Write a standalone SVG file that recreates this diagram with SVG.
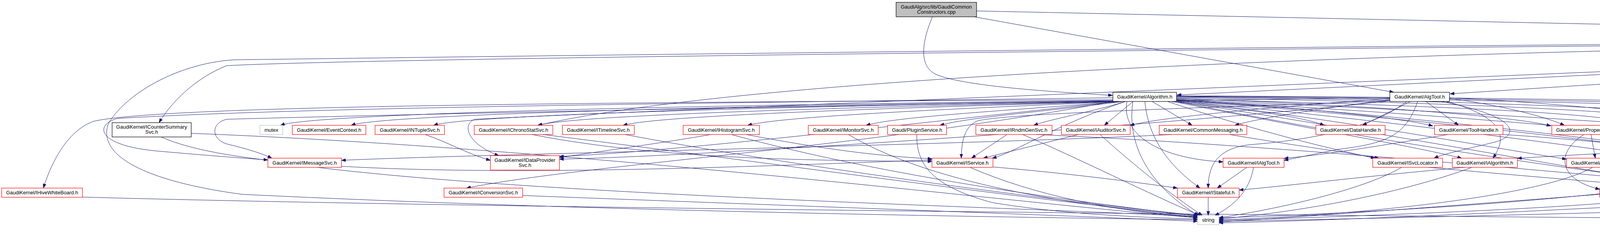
<svg xmlns="http://www.w3.org/2000/svg" width="6877" height="624" viewBox="0 0 6877 624">
<defs>
<marker id="ah" markerWidth="11" markerHeight="8" refX="11" refY="4" orient="auto" markerUnits="userSpaceOnUse"><path d="M0,0 L11,4 L0,8 z" fill="#191970" stroke="#191970" stroke-width="0.8"/></marker>
</defs>
<style>
.e path{fill:none;stroke:#191970;stroke-width:1;marker-end:url(#ah)}
.n rect{fill:#ffffff;stroke-width:1.2}
.r rect{stroke:#ff0000}
.b rect{stroke:#000000}
.g rect{stroke:#bfbfbf}
.s rect{fill:#bfbfbf;stroke:#000000}
.n text{font-family:"Liberation Sans",Arial,Helvetica,sans-serif;font-size:13px;fill:#000000;text-anchor:middle}
</style>
<rect x="0" y="0" width="6877" height="624" fill="#ffffff"/>
<g id="edges" class="e">
<path d="M2500,28 L5806,98"/>
<path d="M2387,43 C2365,95 2345,170 2400,192 C2480,222 2700,235 2848,244"/>
<path d="M2494,43 L3568,236"/>
<path d="M5807,108 L3013,243"/>
<path d="M5807,106 L3712,240"/>
<path d="M5807,100 L4708,163"/>
<path d="M5984,108 C6100,125 6200,145 6245,159.5"/>
<path d="M5984,105 C6200,120 6350,145 6419,163"/>
<path d="M5984,102 C6300,112 6550,140 6621,162"/>
<path d="M6622,165 C6500,135 6200,115 5986,107"/>
<path d="M5985,93 C6300,105 6700,140 6822,157 C6870,190 6855,280 6800,330 C6770,360 6745,385 6730,404.5"/>
<path d="M5940,113 C6030,140 6100,175 6157,229.3"/>
<path d="M5960,113 C6150,160 6280,200 6342,236"/>
<path d="M5807,103 C3000,125 900,150 580,168 C500,200 440,260 407,313.7"/>
<path d="M5807,101 C3500,115 1200,145 600,153 C470,160 330,230 278,315 C245,400 380,465 620,497 C1500,540 2600,556 3066,562"/>
<path d="M5807,104 C3500,120 1900,200 1377,320.5"/>
<path d="M5807,110 C4000,190 1600,285 1215,305 C1180,320 1200,370 1277,398"/>
<path d="M5859,113 C5700,170 5420,280 5344,320.5"/>
<path d="M5889,113 C5850,240 5750,350 5600,370 C5400,390 5250,400 5138.5,410"/>
<path d="M5900,113 C5920,240 5880,350 5720,400 C5600,410 5500,414 5412.2,416"/>
<path d="M5922,113 C6060,330 6000,436 5700,462 C5300,470 5000,478 4854,485"/>
<path d="M5918,113 C6030,320 5970,436 5700,455 C5400,465 5200,480 5055.3,488"/>
<path d="M5940,113 C6100,150 6250,190 6392,189 C6470,215 6500,260 6497,300 C6495,380 6500,440 6455,462 C6300,500 5700,540 5306.4,558"/>
<path d="M5905,113 C5950,280 5300,390 4617.3,411"/>
<path d="M2849,255 C1500,262 420,270 240,310 C170,335 130,420 111,481"/>
<path d="M2850,257 C1800,268 800,290 718,320.5"/>
<path d="M2851,258 C1900,270 980,292 899,320.5"/>
<path d="M2853,259 C2000,272 1190,294 1110,320.5"/>
<path d="M2855,260 C2100,275 1460,296 1377,320.5"/>
<path d="M2858,260 C2200,278 1680,297 1595,320.5"/>
<path d="M2862,260 C2400,280 2000,298 1914,320.5"/>
<path d="M2866,260 C2550,285 2300,298 2217,320.5"/>
<path d="M2872,260 C2650,288 2480,300 2406,320.5"/>
<path d="M2880,260 C2780,290 2700,302 2646,320.5"/>
<path d="M2900,260 L2827,320.5"/>
<path d="M2950,260 L3052,320.5"/>
<path d="M3000,260 C3200,280 3340,300 3390,320.5"/>
<path d="M3012,255 C3300,272 3580,300 3668,322"/>
<path d="M3012,252 C3500,268 3880,298 3970,322"/>
<path d="M3012,250 C3800,262 4300,290 4378,320.5"/>
<path d="M3012,248 C4000,258 4600,300 4789,326"/>
<path d="M3012,247 C4200,256 4950,290 5032,320.5"/>
<path d="M3012,246 C4400,254 5170,290 5252,320.5"/>
<path d="M3012,245 C4600,252 5440,290 5528,320.5"/>
<path d="M2849,250 C2000,262 800,272 300,303 C240,320 250,372 400,386 C500,395 600,403 685.8,409"/>
<path d="M2860,260 C2300,320 1700,390 1432.2,400"/>
<path d="M2880,260 C2700,320 2600,390 2540,404.5"/>
<path d="M2885,260 C2870,340 2960,405 3131,414"/>
<path d="M2990,260 C3200,330 3400,380 3520,404.5"/>
<path d="M3005,260 C3300,320 3600,370 3742,404.5"/>
<path d="M3012,258 C3400,300 3800,375 4010,407"/>
<path d="M3012,257 C3600,290 4200,370 4464,404.5"/>
<path d="M2852,259 C2200,380 1500,420 1194,481"/>
<path d="M2931,260 C2940,360 3000,430 3072,481"/>
<path d="M3012,253 C3600,268 4150,288 4185,320 C4215,360 4200,420 4184,481"/>
<path d="M2900,260 C2880,400 2980,500 3068,551"/>
<path d="M3012,259 C3800,420 4800,540 5247.6,557"/>
<path d="M3012,258 C3800,330 4500,440 4745,481"/>
<path d="M3012,257 C3900,320 4700,440 4928,481"/>
<path d="M3012,256 C3900,300 4700,390 4938,410"/>
<path d="M3012,259 C3800,380 4200,470 4419,481"/>
<path d="M3012,255 C4200,300 5100,390 5365.6,409"/>
<path d="M3610,260 L3488,320.5"/>
<path d="M3651,260 L3734,320.5"/>
<path d="M3711,252 C3850,270 3960,300 4005,320.5"/>
<path d="M3711,250 C4000,264 4300,294 4382,320.5"/>
<path d="M3558,255 C3400,275 3230,300 3161,320.5"/>
<path d="M3558,252 C3300,270 2960,300 2893,321"/>
<path d="M3629,260 C3600,340 3560,365 3440,380 C3380,390 3330,402 3287.2,410"/>
<path d="M3692,260 C3900,300 3890,350 3820,365 C3760,380 3700,392 3671,404.5"/>
<path d="M3705,260 C3850,300 3860,350 3822,404.5"/>
<path d="M3558,250 C2500,262 1200,288 580,305 C540,315 540,355 580,368 C630,380 670,392 696,404.5"/>
<path d="M3558,258 C3000,320 1800,400 1432.2,407"/>
<path d="M3558,258 C3100,275 2560,290 2500,310 C2470,325 2461,360 2461,404.5"/>
<path d="M3600,260 C3500,340 3300,362 3200,370 C3110,380 3093,430 3093,481"/>
<path d="M412,350 C700,480 1800,430 2385.8,409"/>
<path d="M489,341 C1500,380 2600,520 3065.7,557"/>
<path d="M812,428 C1400,500 2600,530 3065.7,554"/>
<path d="M1088,344 C1150,365 1200,395 1255.4,410"/>
<path d="M1362,344 C1700,410 2100,410 2385.8,413"/>
<path d="M1390,344 C2000,420 2700,520 3066,552"/>
<path d="M1600,344 C2000,420 2700,515 3068,551"/>
<path d="M1820,344 C1700,365 1550,385 1432.2,403"/>
<path d="M1872,344 C2300,460 2800,520 3065.7,553"/>
<path d="M1910,344 C2100,380 2250,400 2385.8,406"/>
<path d="M2172,344 C2400,480 2800,530 3065.7,555"/>
<path d="M2347,344 C2345,430 2400,480 2540,518 C2700,545 2900,556 3065.7,560"/>
<path d="M2578,344 L2487,404.5"/>
<path d="M2618,344 C2750,400 2950,500 3072,551"/>
<path d="M2652,344 C3500,380 4800,520 5247.6,555"/>
<path d="M2761,344 L2517,404.5"/>
<path d="M2816,344 C2900,420 3000,500 3078,551"/>
<path d="M3000,344 C2500,370 1200,395 874.1,410"/>
<path d="M3148,344 C3300,370 3450,390 3530,404.5"/>
<path d="M3707,344 C3550,370 3400,395 3287.2,405"/>
<path d="M3848,344 C4100,360 4350,390 4457.2,405"/>
<path d="M4073,344 L4084,404.5"/>
<path d="M4055,344 C3980,390 3990,460 4095.4,484"/>
<path d="M4168,342 C4500,355 4800,390 4938,408"/>
<path d="M4406,344 L4145,404.5"/>
<path d="M4491,344 C4400,390 4280,440 4203,481"/>
<path d="M4887,350 C4910,400 4930,440 4952,481"/>
<path d="M4850,350 C4500,500 3500,545 3120.4,557"/>
<path d="M4971,350 C5150,370 5280,395 5365.6,409"/>
<path d="M5085,344 L5050,404.5"/>
<path d="M5313,344 C5310,420 5295,490 5282,551"/>
<path d="M5258,344 C4800,360 4100,390 3884.6,405"/>
<path d="M5592,344 C5560,420 5500,490 5306.4,556"/>
<path d="M2483,428 C2650,500 2850,540 3065.7,556"/>
<path d="M2543,427 C2750,445 2900,465 3014.2,481"/>
<path d="M3192,428 L3116,481"/>
<path d="M3209,428 C3200,480 3170,520 3110,551"/>
<path d="M3588,428 C3500,480 3300,530 3120.4,557"/>
<path d="M3657,428 C3900,450 4200,475 4400.6,490"/>
<path d="M3750,428 C3500,450 3300,475 3172.2,486"/>
<path d="M3768,428 C3600,490 3350,540 3120.4,560"/>
<path d="M4077,428 C3950,500 3500,550 3120.4,562"/>
<path d="M4101,428 L4156,481"/>
<path d="M4519,428 L4443,481"/>
<path d="M4530,428 C4500,500 4200,530 3120.4,564"/>
<path d="M4571,428 L4734,481"/>
<path d="M4999,428 L4819,481"/>
<path d="M5028,428 L4984,481"/>
<path d="M5048,428 C5090,480 5070,510 4900,520 C4300,540 3500,560 3120.4,566"/>
<path d="M3093,504.5 L3093,551"/>
<path d="M4256,499 C4600,525 5000,550 5247.6,559"/>
<path d="M4095,497 C3800,520 3400,550 3120.4,568"/>
<path d="M4854,504 C5000,530 5150,550 5247.6,562"/>
<path d="M4700,500 C4300,520 3600,560 3120.4,570"/>
<path d="M211,504 C1500,540 4500,560 5247.6,565"/>
<path d="M1338,500 C2000,525 2700,550 3065.7,566"/>
<path d="M6370,260 C6200,400 5700,520 5306.4,560"/>
<path d="M6177,266 C6150,380 6050,460 5800,520 C5600,540 5450,555 5306.4,563"/>
<path d="M6716,183 L6716,404.5"/>
<path d="M4603,183 C4615,260 4610,340 4560,366 C4450,395 4300,410 4168.3,414"/>
</g>
<g id="n_src" class="n s"><rect x="2294" y="6" width="206" height="37"/><text x="2397" y="21.8">GaudiAlg/src/lib/GaudiCommon</text><text x="2397" y="34.8">Constructors.cpp</text></g>
<g id="n_GaudiCommon" class="n b"><rect x="5807" y="89.5" width="177.5" height="23.5"/><text x="5895.75" y="105.8">GaudiAlg/GaudiCommon.h</text></g>
<g id="n_DataObjectHandle" class="n r"><rect x="4492" y="159.5" width="215" height="23.5"/><text x="4599.5" y="175.8">GaudiKernel/DataObjectHandle.h</text></g>
<g id="n_HashMap" class="n r"><rect x="6237.5" y="159.5" width="158.5" height="23.5"/><text x="6316.75" y="175.8">GaudiKernel/HashMap.h</text></g>
<g id="n_SmartDataPtr" class="n r"><rect x="6418.7" y="159.5" width="180.1" height="23.5"/><text x="6508.75" y="175.8">GaudiKernel/SmartDataPtr.h</text></g>
<g id="n_GaudiCommonImp" class="n r"><rect x="6620.8" y="159.5" width="190.8" height="23.5"/><text x="6716.2" y="175.8">GaudiAlg/GaudiCommonImp.h</text></g>
<g id="n_Algorithm" class="n b"><rect x="2849" y="236" width="163" height="23.5"/><text x="2930.5" y="252.3">GaudiKernel/Algorithm.h</text></g>
<g id="n_AlgTool" class="n b"><rect x="3558" y="236" width="152.7" height="23.5"/><text x="3634.35" y="252.3">GaudiKernel/AlgTool.h</text></g>
<g id="n_IUpdateManagerSvc" class="n r"><rect x="6086" y="229.3" width="193" height="37"/><text x="6182.5" y="244.9">GaudiKernel/IUpdateManager</text><text x="6182.5" y="257.9">Svc.h</text></g>
<g id="n_StatEntity" class="n r"><rect x="6302" y="236" width="159" height="23.5"/><text x="6381.5" y="252.3">GaudiKernel/StatEntity.h</text></g>
<g id="n_ICounterSummarySvc" class="n b"><rect x="287" y="313.7" width="202.5" height="36.6"/><text x="388.25" y="329.3">GaudiKernel/ICounterSummary</text><text x="388.25" y="342.3">Svc.h</text></g>
<g id="n_mutex" class="n g"><rect x="665.4" y="320.5" width="58.5" height="23.5"/><text x="694.65" y="336.8">mutex</text></g>
<g id="n_EventContext" class="n r"><rect x="748.3" y="320.5" width="188.3" height="23.5"/><text x="842.45" y="336.8">GaudiKernel/EventContext.h</text></g>
<g id="n_INTupleSvc" class="n r"><rect x="960.2" y="320.5" width="177.6" height="23.5"/><text x="1049" y="336.8">GaudiKernel/INTupleSvc.h</text></g>
<g id="n_IChronoStatSvc" class="n r"><rect x="1214" y="320.5" width="201.2" height="23.5"/><text x="1314.6" y="336.8">GaudiKernel/IChronoStatSvc.h</text></g>
<g id="n_ITimelineSvc" class="n r"><rect x="1439.6" y="320.5" width="184.2" height="23.5"/><text x="1531.7" y="336.8">GaudiKernel/ITimelineSvc.h</text></g>
<g id="n_IHistogramSvc" class="n r"><rect x="1748.8" y="320.5" width="195.4" height="23.5"/><text x="1846.5" y="336.8">GaudiKernel/IHistogramSvc.h</text></g>
<g id="n_IMonitorSvc" class="n r"><rect x="2069.2" y="320.5" width="179" height="23.5"/><text x="2158.7" y="336.8">GaudiKernel/IMonitorSvc.h</text></g>
<g id="n_PluginService" class="n r"><rect x="2272.3" y="320.5" width="150.9" height="23.5"/><text x="2347.75" y="336.8">Gaudi/PluginService.h</text></g>
<g id="n_IRndmGenSvc" class="n r"><rect x="2498.2" y="320.5" width="195" height="23.5"/><text x="2595.7" y="336.8">GaudiKernel/IRndmGenSvc.h</text></g>
<g id="n_IAuditorSvc" class="n r"><rect x="2717.2" y="320.5" width="176.1" height="23.5"/><text x="2805.25" y="336.8">GaudiKernel/IAuditorSvc.h</text></g>
<g id="n_CommonMessaging" class="n r"><rect x="2967.6" y="320.5" width="224.2" height="23.5"/><text x="3079.7" y="336.8">GaudiKernel/CommonMessaging.h</text></g>
<g id="n_DataHandle" class="n r"><rect x="3368.6" y="320.5" width="177.2" height="23.5"/><text x="3457.2" y="336.8">GaudiKernel/DataHandle.h</text></g>
<g id="n_ToolHandle" class="n r"><rect x="3672.3" y="320.5" width="175.3" height="23.5"/><text x="3759.95" y="336.8">GaudiKernel/ToolHandle.h</text></g>
<g id="n_PropertyHolder" class="n r"><rect x="3972.6" y="320.5" width="195.7" height="23.5"/><text x="4070.45" y="336.8">GaudiKernel/PropertyHolder.h</text></g>
<g id="n_DataObjIDProperty" class="n r"><rect x="4344" y="320.5" width="218.6" height="23.5"/><text x="4453.3" y="336.8">GaudiKernel/DataObjIDProperty.h</text></g>
<g id="n_IAlgExecStateSvc" class="n r"><rect x="4789.3" y="313.7" width="181.3" height="36.6"/><text x="4879.95" y="329.3">GaudiKernel/IAlgExecState</text><text x="4879.95" y="342.3">Svc.h</text></g>
<g id="n_IExceptionSvc" class="n r"><rect x="4995" y="320.5" width="193.8" height="23.5"/><text x="5091.9" y="336.8">GaudiKernel/IExceptionSvc.h</text></g>
<g id="n_IAlgContextSvc" class="n r"><rect x="5213.2" y="320.5" width="200.2" height="23.5"/><text x="5313.3" y="336.8">GaudiKernel/IAlgContextSvc.h</text></g>
<g id="n_IDataHandleHolder" class="n r"><rect x="5487.7" y="320.5" width="218.6" height="23.5"/><text x="5597" y="336.8">GaudiKernel/IDataHandleHolder.h</text></g>
<g id="n_IMessageSvc" class="n r"><rect x="685.8" y="404.5" width="188.3" height="23.5"/><text x="779.95" y="420.8">GaudiKernel/IMessageSvc.h</text></g>
<g id="n_IDataProviderSvc" class="n r"><rect x="1255.4" y="398" width="176.8" height="37"/><text x="1343.8" y="413.6">GaudiKernel/IDataProvider</text><text x="1343.8" y="426.6">Svc.h</text></g>
<g id="n_IService" class="n r"><rect x="2385.8" y="404.5" width="156.1" height="23.5"/><text x="2463.85" y="420.8">GaudiKernel/IService.h</text></g>
<g id="n_IAlgTool" class="n r"><rect x="3131.1" y="404.5" width="156.1" height="23.5"/><text x="3209.15" y="420.8">GaudiKernel/IAlgTool.h</text></g>
<g id="n_ISvcLocator" class="n r"><rect x="3514.3" y="404.5" width="178.7" height="23.5"/><text x="3603.65" y="420.8">GaudiKernel/ISvcLocator.h</text></g>
<g id="n_IAlgorithm" class="n r"><rect x="3717.8" y="404.5" width="166.8" height="23.5"/><text x="3801.2" y="420.8">GaudiKernel/IAlgorithm.h</text></g>
<g id="n_Property" class="n r"><rect x="4010.3" y="404.5" width="158" height="23.5"/><text x="4089.3" y="420.8">GaudiKernel/Property.h</text></g>
<g id="n_IToolSvc" class="n r"><rect x="4457.2" y="404.5" width="160.1" height="23.5"/><text x="4537.25" y="420.8">GaudiKernel/IToolSvc.h</text></g>
<g id="n_GaudiException" class="n r"><rect x="4938" y="404.5" width="200.5" height="23.5"/><text x="5038.25" y="420.8">GaudiKernel/GaudiException.h</text></g>
<g id="n_map" class="n g"><rect x="5365.6" y="404.5" width="46.6" height="23.5"/><text x="5388.9" y="420.8">map</text></g>
<g id="n_algorithm" class="n g"><rect x="6680.3" y="404.5" width="72.2" height="23.5"/><text x="6716.4" y="420.8">algorithm</text></g>
<g id="n_IHiveWhiteBoard" class="n r"><rect x="4.4" y="481" width="206.8" height="23.5"/><text x="107.8" y="497.3">GaudiKernel/IHiveWhiteBoard.h</text></g>
<g id="n_IConversionSvc" class="n r"><rect x="1136.7" y="481" width="201.2" height="23.5"/><text x="1237.3" y="497.3">GaudiKernel/IConversionSvc.h</text></g>
<g id="n_IStateful" class="n r"><rect x="3014.2" y="481" width="158" height="23.5"/><text x="3093.2" y="497.3">GaudiKernel/IStateful.h</text></g>
<g id="n_IProperty" class="n r"><rect x="4095.4" y="481" width="160.9" height="23.5"/><text x="4175.85" y="497.3">GaudiKernel/IProperty.h</text></g>
<g id="n_list" class="n g"><rect x="4400.6" y="481" width="38.8" height="23.5"/><text x="4420" y="497.3">list</text></g>
<g id="n_System" class="n r"><rect x="4700.2" y="481" width="153.9" height="23.5"/><text x="4777.15" y="497.3">GaudiKernel/System.h</text></g>
<g id="n_StatusCode" class="n r"><rect x="4877.8" y="481" width="177.5" height="23.5"/><text x="4966.55" y="497.3">GaudiKernel/StatusCode.h</text></g>
<g id="n_string" class="n g"><rect x="3065.7" y="551" width="54.7" height="23.5"/><text x="3093.05" y="567.3">string</text></g>
<g id="n_vector" class="n g"><rect x="5247.6" y="551" width="58.8" height="23.5"/><text x="5277" y="567.3">vector</text></g>
</svg>
